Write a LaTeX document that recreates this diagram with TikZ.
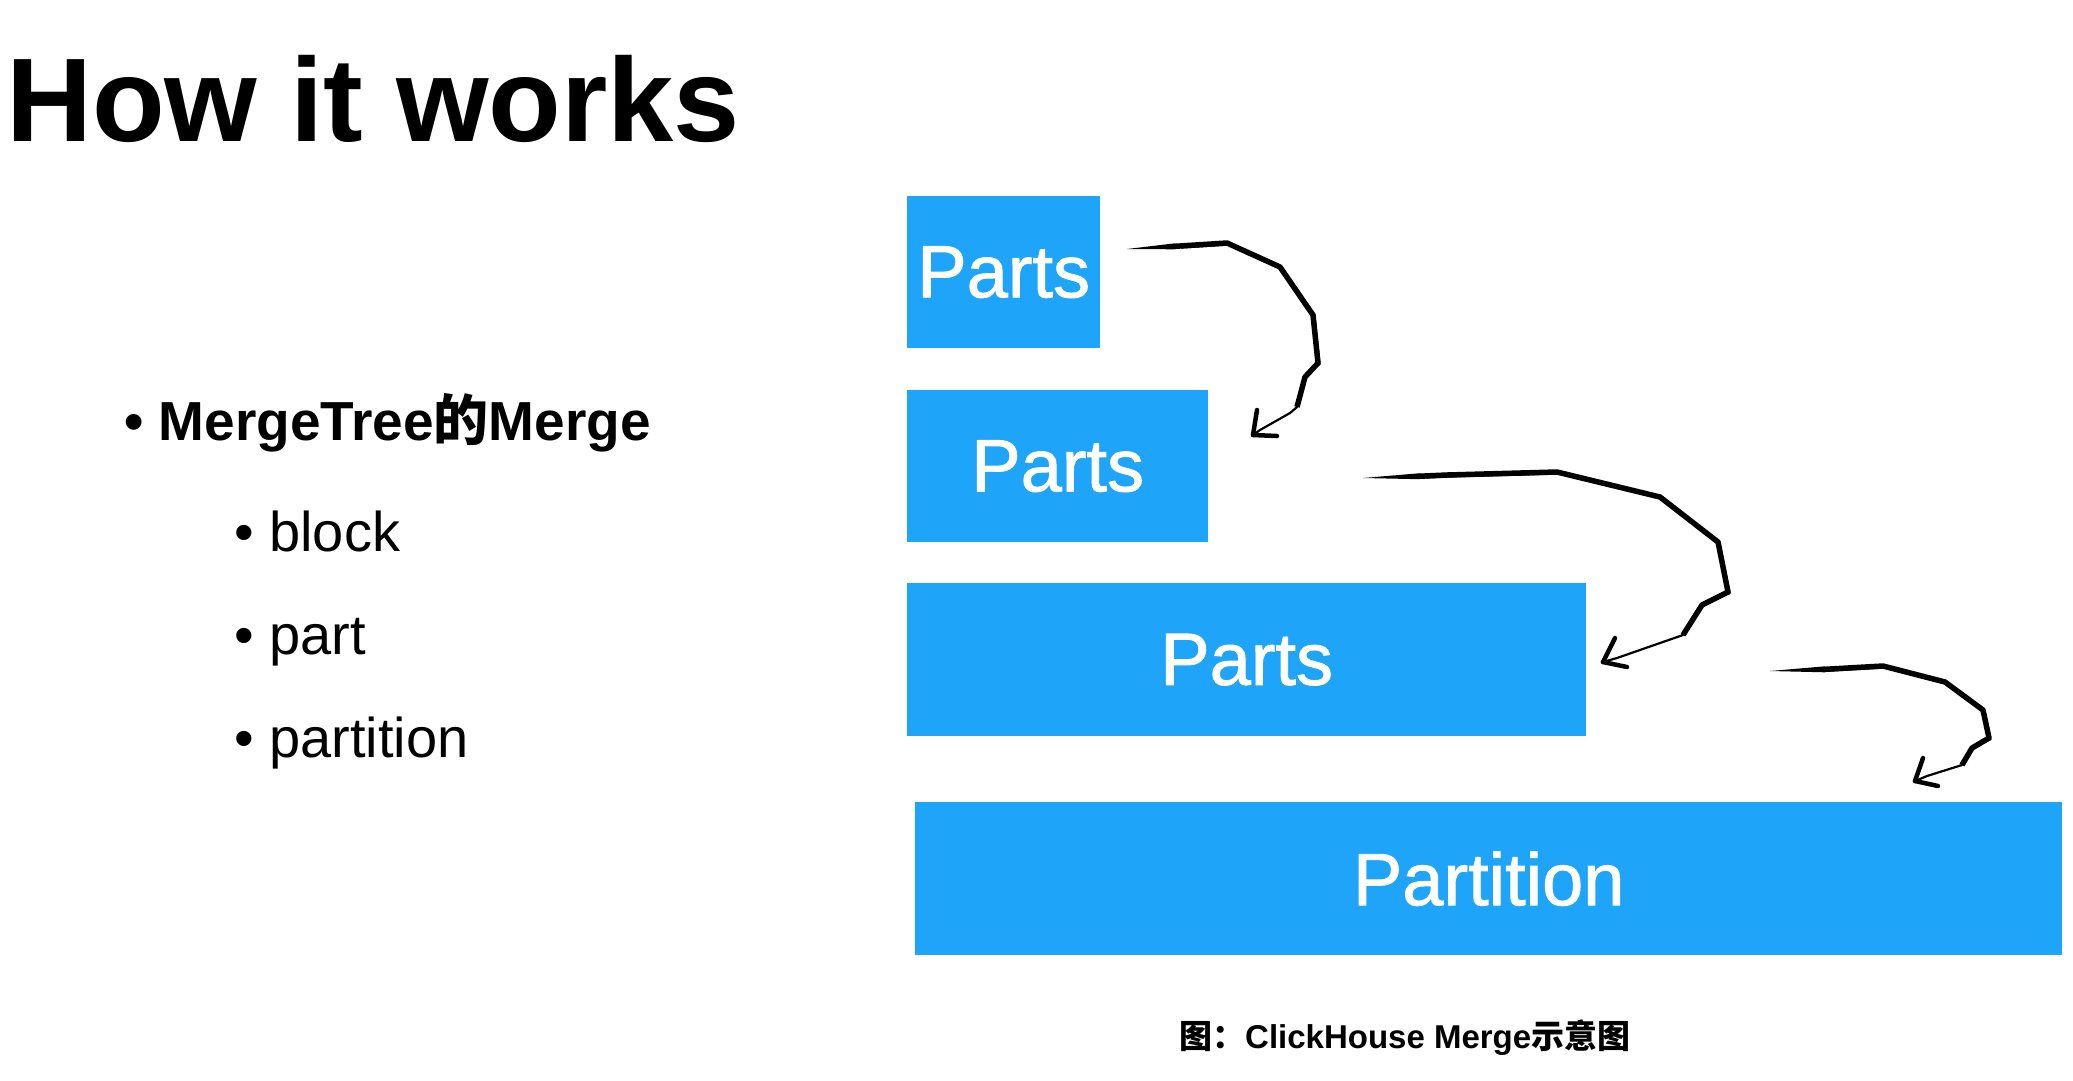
\documentclass[tikz,border=0pt]{standalone}
\usepackage{fontspec}
\setmainfont{Liberation Sans}
\newfontfamily\cjk{Noto Sans CJK SC}
\definecolor{partblue}{RGB}{30,165,250}
\begin{document}
\begin{tikzpicture}[x=1pt,y=-1pt,
  partbox/.style={fill=partblue, draw=none, inner sep=0pt, anchor=north west,
    text=white, font=\fontsize{74}{74}\selectfont\addfontfeature{FakeBold=1.2}},
  brush/.style={draw=black, line width=5.5pt, line cap=butt, line join=round},
  brushthin/.style={draw=black, line width=2.2pt, line cap=round, line join=round},
  brushhead/.style={draw=black, line width=4.5pt, line cap=round},
  lvlone/.style={anchor=base west, inner sep=0pt, font=\bfseries\fontsize{55}{55}\selectfont},
  lvltwo/.style={anchor=base west, inner sep=0pt, font=\fontsize{56}{56}\selectfont}]
\useasboundingbox (0,0) rectangle (2073,1080);

% heading
\node[anchor=base west, inner sep=0pt, font=\bfseries\fontsize{119}{119}\selectfont] (title) at (6,141) {How it works};

% bullet list
\node[lvlone] (l1) at (124,440) {• MergeTree{\cjk 的}Merge};
\node[lvltwo] (l2a) at (234,551) {• block};
\node[lvltwo] (l2b) at (234,654) {• part};
\node[lvltwo] (l2c) at (234,757) {• partition};

% stacked parts and the partition
\node[partbox, minimum width=193pt, minimum height=152pt] (p1) at (907,196) {Parts};
\node[partbox, minimum width=301pt, minimum height=152pt] (p2) at (907,390) {Parts};
\node[partbox, minimum width=679pt, minimum height=153pt] (p3) at (907,583) {Parts};
\node[partbox, minimum width=1147pt, minimum height=153pt] (pt) at (915,802) {Partition};

% caption
\node[anchor=base west, inner sep=0pt, font=\bfseries\fontsize{33}{33}\selectfont] (cap) at (1179,1048)
  {{\cjk 图：}ClickHouse Merge{\cjk 示意图}};

% hand-drawn merge arrows: tapered start, thick body, thin tail, open head
\coordinate (s1) at (1127,249);
\coordinate (t1) at (1253,435);
\coordinate (s2) at (1363,478);
\coordinate (t2) at (1603,662);
\coordinate (s3) at (1770,671);
\coordinate (t3) at (1915,781);

\fill (s1) -- (1175,243.3) -- (1175,249.3) -- cycle;
\draw[brush] (1175,246.3) -- (1227,243) -- (1280,267) -- (1313,315) -- (1318,363) -- (1305,377) -- (1297,407);
\draw[brushthin, shift={(1.5,1.5)}] (1180,246) -- (1227,243) -- (1280,267) -- (1313,315) -- (1318,363);
\draw[brushthin] (1297,407) -- (1290,413) -- (1260,430) -- (t1);
\draw[brushhead] (t1) -- ++(4,-25);
\draw[brushhead] (t1) -- ++(24,1);

\fill (s2) -- (1420,473.2) -- (1420,479.2) -- cycle;
\draw[brush] (1420,476.2) -- (1447,475) -- (1557,472) -- (1660,497) -- (1718,542) -- (1728,592) -- (1702,605) -- (1683,635);
\draw[brushthin, shift={(1.5,1.5)}] (1425,476) -- (1447,475) -- (1557,472) -- (1660,497) -- (1718,542) -- (1728,592);
\draw[brushthin] (1683,635) -- (1617,658) -- (t2);
\draw[brushhead] (t2) -- ++(12,-24);
\draw[brushhead] (t2) -- ++(24,5);

\fill (s3) -- (1825,666.3) -- (1825,672.3) -- cycle;
\draw[brush] (1825,669.3) -- (1883,666) -- (1945,682) -- (1983,710) -- (1989,738) -- (1972,748) -- (1962,765);
\draw[brushthin, shift={(1.5,1.5)}] (1830,669) -- (1883,666) -- (1945,682) -- (1983,710) -- (1989,738);
\draw[brushthin] (1962,765) -- (1927,776) -- (t3);
\draw[brushhead] (t3) -- ++(8,-23);
\draw[brushhead] (t3) -- ++(23,5);
\end{tikzpicture}
\end{document}
